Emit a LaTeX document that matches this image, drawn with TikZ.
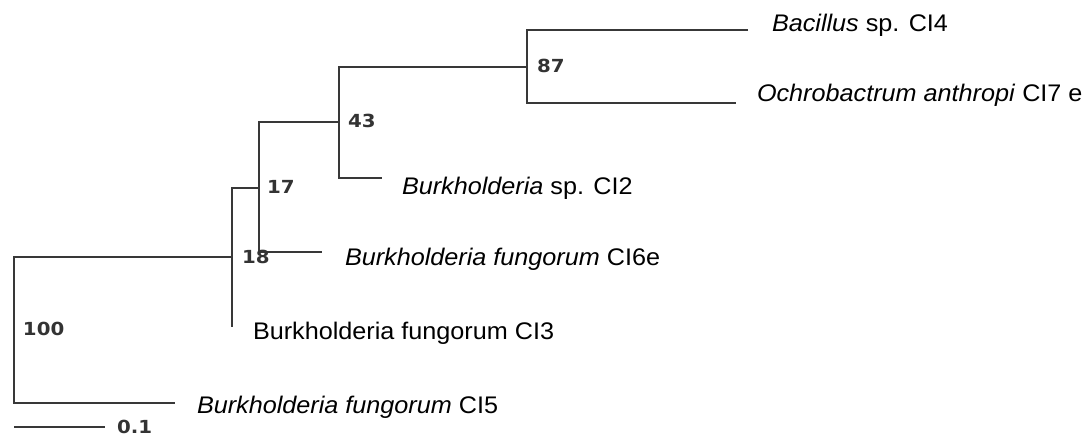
\documentclass[tikz,border=0pt]{standalone}
\usepackage{fontspec}
\usepackage{graphicx}
\setmainfont{Liberation Sans}
\newfontfamily\bsfont{DejaVu Sans}
\newcommand{\leaftext}[1]{\scalebox{1.05}[1]{\fontsize{24}{28}\selectfont #1}}
\newcommand{\bstext}[1]{\scalebox{1.1}[1]{\bsfont\bfseries\fontsize{18}{22}\selectfont #1}}
\begin{document}
\begin{tikzpicture}[x=1pt,y=-1pt,
  branch/.style={draw=black!78,line width=2pt},
  leaflabel/.style={anchor=base west,inner sep=0pt,outer sep=0pt,text=black},
  bootlabel/.style={anchor=base west,inner sep=0pt,outer sep=0pt,text=black!80}]
\useasboundingbox (0,0) rectangle (1082,436);
% internal nodes
\coordinate (n87) at (527,67);
\coordinate (n43) at (339,122);
\coordinate (n17) at (259,188);
\coordinate (n18) at (232,257);
\coordinate (root) at (14,330);
% leaf tips
\coordinate (bac) at (748,30);
\coordinate (och) at (736,103);
\coordinate (cl2) at (382,178);
\coordinate (cl6) at (322,252);
\coordinate (cl3) at (232,327);
\coordinate (cl5) at (175,403);
% scale bar ends
\coordinate (sbA) at (14,427);
\coordinate (sbB) at (105,427);
% branches
\draw[branch] (bac) -| (n87) |- (och);
\draw[branch] (n87) -| (n43) |- (cl2);
\draw[branch] (n43) -| (n17) |- (cl6);
\draw[branch] (n17) -| (n18) |- (cl3);
\draw[branch] (n18) -| (root) |- (cl5);
\draw[branch] (sbA) -- (sbB);
% leaf labels
\node[leaflabel] (Lbac) at (772,32) {\leaftext{\textit{Bacillus} sp. CI4}};
\node[leaflabel] (Loch) at (757,102) {\leaftext{\textit{Ochrobactrum anthropi} CI7 e}};
\node[leaflabel] (Lcl2) at (402,194) {\leaftext{\textit{Burkholderia} sp. CI2}};
\node[leaflabel] (Lcl6) at (345,265) {\leaftext{\textit{Burkholderia fungorum} CI6e}};
\node[leaflabel] (Lcl3) at (253,339) {\leaftext{Burkholderia fungorum CI3}};
\node[leaflabel] (Lcl5) at (197,413) {\leaftext{\textit{Burkholderia fungorum} CI5}};
% bootstrap values
\node[bootlabel] (B87) at (537,73) {\bstext{87}};
\node[bootlabel] (B43) at (348,128) {\bstext{43}};
\node[bootlabel] (B17) at (267,193) {\bstext{17}};
\node[bootlabel] (B18) at (242,263) {\bstext{18}};
\node[bootlabel] (B100) at (23,335) {\bstext{100}};
\node[bootlabel] (Bsb) at (117,433) {\bstext{0.1}};
\end{tikzpicture}
\end{document}
